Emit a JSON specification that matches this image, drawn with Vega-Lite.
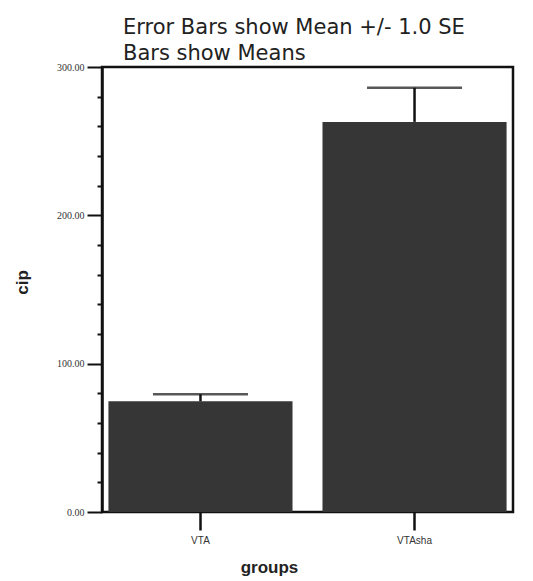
{
  "$schema": "https://vega.github.io/schema/vega-lite/v6.json",
  "autosize": "none",
  "padding": {"left": 102, "top": 67, "right": 20, "bottom": 69},
  "width": 411,
  "height": 445,
  "background": "white",
  "title": {
    "text": ["Error Bars show Mean +/- 1.0 SE", "Bars show Means"],
    "anchor": "start",
    "frame": "group",
    "dx": 21,
    "offset": -2,
    "font": "DejaVu Sans",
    "fontSize": 21,
    "fontWeight": "normal",
    "lineHeight": 26,
    "color": "#222"
  },
  "data": {
    "values": [
      {"group": "VTA", "mean": 74.6, "upper": 79.4},
      {"group": "VTAsha", "mean": 263, "upper": 286}
    ]
  },
  "config": {
    "view": {"stroke": "#111", "strokeWidth": 2.5},
    "axis": {"grid": false, "domainColor": "#111", "tickColor": "#111"}
  },
  "encoding": {
    "x": {
      "field": "group",
      "type": "nominal",
      "scale": {"paddingInner": 0.14, "paddingOuter": 0.03},
      "axis": {
        "title": "groups",
        "titleFont": "Liberation Sans",
        "titleFontSize": 17,
        "titleFontWeight": "bold",
        "titleColor": "#222",
        "titleX": 167,
        "titleY": 60,
        "titleBaseline": "alphabetic",
        "labelAngle": 0,
        "labelFont": "Liberation Sans",
        "labelFontSize": 10,
        "labelColor": "#333",
        "labelPadding": 5,
        "tickSize": 18,
        "tickWidth": 2.5,
        "domain": false
      }
    },
    "y": {
      "field": "mean",
      "type": "quantitative",
      "scale": {"domain": [0, 300], "nice": false},
      "axis": {
        "title": "cip",
        "titleFont": "Liberation Sans",
        "titleFontSize": 17,
        "titleFontWeight": "bold",
        "titleColor": "#222",
        "titleX": -80,
        "titleY": 215,
        "titleAngle": 270,
        "titleBaseline": "middle",
        "values": [0, 20, 40, 60, 80, 100, 120, 140, 160, 180, 200, 220, 240, 260, 280, 300],
        "labelExpr": "datum.value % 100 === 0 ? format(datum.value, '.2f') : ''",
        "labelOverlap": false,
        "labelBound": false,
        "labelFlush": false,
        "labelFont": "Liberation Serif",
        "labelFontSize": 10,
        "labelColor": "#333",
        "labelPadding": 3,
        "tickSize": {"condition": {"test": "datum.value % 100 === 0", "value": 15}, "value": 5},
        "tickWidth": 2,
        "domainWidth": 2.5
      }
    }
  },
  "layer": [
    {
      "mark": {"type": "bar", "color": "#363636"}
    },
    {
      "mark": {"type": "rule", "color": "#111", "strokeWidth": 2.5},
      "encoding": {
        "y2": {"field": "upper"}
      }
    },
    {
      "mark": {"type": "tick", "color": "#111", "thickness": 2.5, "size": 95},
      "encoding": {
        "y": {
          "field": "upper",
          "type": "quantitative",
          "scale": {"domain": [0, 300], "nice": false},
          "axis": {
            "title": "cip",
            "titleFont": "Liberation Sans",
            "titleFontSize": 17,
            "titleFontWeight": "bold",
            "titleColor": "#222",
            "titleX": -80,
            "titleY": 215,
            "titleAngle": 270,
            "titleBaseline": "middle",
            "values": [0, 20, 40, 60, 80, 100, 120, 140, 160, 180, 200, 220, 240, 260, 280, 300],
            "labelExpr": "datum.value % 100 === 0 ? format(datum.value, '.2f') : ''",
            "labelOverlap": false,
            "labelBound": false,
            "labelFlush": false,
            "labelFont": "Liberation Serif",
            "labelFontSize": 10,
            "labelColor": "#333",
            "labelPadding": 3,
            "tickSize": {"condition": {"test": "datum.value % 100 === 0", "value": 15}, "value": 5},
            "tickWidth": 2,
            "domainWidth": 2.5
          }
        }
      }
    }
  ]
}
